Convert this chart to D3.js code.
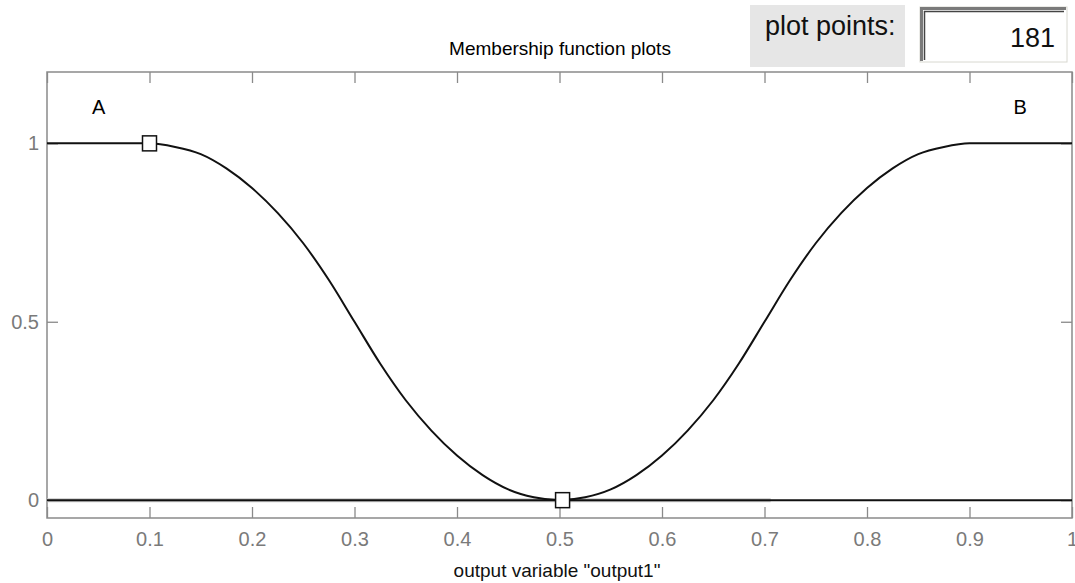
<!DOCTYPE html>
<html>
<head>
<meta charset="utf-8">
<script src="https://cdn.jsdelivr.net/npm/d3@7"></script>
<style>
  body { margin: 0; background: #fff; }
  text { font-family: "Liberation Sans", Arial, Helvetica, sans-serif; }
</style>
</head>
<body>
<svg id="chart" width="1075" height="583"></svg>
<script>
// membership function values
const xs = [0, 0.05, 0.1, 0.125, 0.15, 0.175, 0.2, 0.225, 0.25, 0.275, 0.3,
            0.325, 0.35, 0.375, 0.4, 0.425, 0.45, 0.475, 0.5,
            0.525, 0.55, 0.575, 0.6, 0.625, 0.65, 0.675, 0.7,
            0.725, 0.75, 0.775, 0.8, 0.825, 0.85, 0.875, 0.9, 0.95, 1];
const mfA = [1, 1, 1, 0.99, 0.97, 0.93, 0.875, 0.805, 0.72, 0.617, 0.5,
             0.383, 0.28, 0.195, 0.125, 0.07, 0.03, 0.008, 0,
             0, 0, 0, 0, 0, 0, 0, 0,
             0, 0, 0, 0, 0, 0, 0, 0, 0, 0];
const mfB = [0, 0, 0, 0, 0, 0, 0, 0, 0, 0, 0,
             0, 0, 0, 0, 0, 0, 0, 0,
             0.008, 0.03, 0.07, 0.125, 0.195, 0.28, 0.383, 0.5,
             0.617, 0.72, 0.805, 0.875, 0.93, 0.97, 0.99, 1, 1, 1];
const mfNames = ["A", "B"];
const markers = [[0.1, 1], [0.503, 0]];
const xTicks = [0, 0.1, 0.2, 0.3, 0.4, 0.5, 0.6, 0.7, 0.8, 0.9, 1];
const yTicks = [0, 0.5, 1];
const plotPoints = 181;

const svg = d3.select("#chart");
const plotLeft = 47, plotRight = 1072, plotTop = 72, plotBottom = 518;

const x = d3.scaleLinear().domain([0, 1]).range([plotLeft, plotRight]);
const y = d3.scaleLinear().domain([-0.05, 1.2]).range([plotBottom, plotTop]);

// frame
svg.append("rect")
    .attr("x", plotLeft).attr("y", plotTop)
    .attr("width", plotRight - plotLeft).attr("height", plotBottom - plotTop)
    .attr("fill", "none").attr("stroke", "#8a8a8a").attr("stroke-width", 1.5);

function styleAxis(g, showLabels) {
    g.select(".domain").remove();
    g.selectAll(".tick line").attr("stroke", "#8a8a8a").attr("stroke-width", 1.3);
    g.selectAll(".tick text")
        .attr("fill", "#7a7a7a")
        .style("font-size", "20px")
        .style("display", showLabels ? null : "none");
}

svg.append("g")
    .attr("transform", `translate(0, ${plotBottom})`)
    .call(d3.axisBottom(x).tickValues(xTicks).tickSizeInner(-11).tickSizeOuter(0)
        .tickPadding(14).tickFormat(d3.format("")))
    .call(g => styleAxis(g, true));

svg.append("g")
    .attr("transform", `translate(0, ${plotTop})`)
    .call(d3.axisTop(x).tickValues(xTicks).tickSizeInner(-11).tickSizeOuter(0))
    .call(g => styleAxis(g, false));

svg.append("g")
    .attr("transform", `translate(${plotLeft}, 0)`)
    .call(d3.axisLeft(y).tickValues(yTicks).tickSizeInner(-11).tickSizeOuter(0)
        .tickPadding(8).tickFormat(d3.format("")))
    .call(g => styleAxis(g, true));

svg.append("g")
    .attr("transform", `translate(${plotRight}, 0)`)
    .call(d3.axisRight(y).tickValues(yTicks).tickSizeInner(-11).tickSizeOuter(0))
    .call(g => styleAxis(g, false));

// faint band along zero line
svg.append("line")
    .attr("x1", x(0)).attr("x2", x(0.706))
    .attr("y1", y(0)).attr("y2", y(0))
    .attr("stroke", "#c8c8c8").attr("stroke-width", 4);

const line = d3.line()
    .x(d => x(d[0]))
    .y(d => y(d[1]))
    .curve(d3.curveMonotoneX);

[mfA, mfB].forEach(vals => {
    svg.append("path")
        .datum(xs.map((v, i) => [v, vals[i]]))
        .attr("fill", "none")
        .attr("stroke", "#111")
        .attr("stroke-width", 2)
        .attr("d", line);
});

svg.selectAll(".marker")
    .data(markers)
    .enter().append("rect")
    .attr("class", "marker")
    .attr("x", d => x(d[0]) - 7)
    .attr("y", d => y(d[1]) - 7.5)
    .attr("width", 14).attr("height", 15)
    .attr("fill", "#fff").attr("stroke", "#111").attr("stroke-width", 1.5);

// mf names
svg.append("text").attr("x", x(0.044)).attr("y", 114)
    .style("font-size", "20px").attr("fill", "#000").text(mfNames[0]);
svg.append("text").attr("x", x(0.943)).attr("y", 114)
    .style("font-size", "20px").attr("fill", "#000").text(mfNames[1]);

// titles
svg.append("text").attr("x", 560).attr("y", 55).attr("text-anchor", "middle")
    .style("font-size", "19px").attr("fill", "#000").text("Membership function plots");
svg.append("text").attr("x", 557).attr("y", 577).attr("text-anchor", "middle")
    .style("font-size", "19px").attr("fill", "#111").text('output variable "output1"');

// plot points control
svg.append("rect").attr("x", 750).attr("y", 5).attr("width", 155).attr("height", 62)
    .attr("fill", "#e6e6e6");
svg.append("text").attr("x", 765).attr("y", 35)
    .style("font-size", "27px").attr("fill", "#111").text("plot points:");
svg.append("rect").attr("x", 920).attr("y", 7).attr("width", 147).attr("height", 55)
    .attr("fill", "#fff").attr("stroke", "#d8d8d0").attr("stroke-width", 1);
svg.append("path")
    .attr("d", "M921.5,61 V8.5 H1066")
    .attr("fill", "none").attr("stroke", "#7a7a7a").attr("stroke-width", 3);
svg.append("path")
    .attr("d", "M924.5,60 V11.5 H1064")
    .attr("fill", "none").attr("stroke", "#444").attr("stroke-width", 1.5);
svg.append("text").attr("x", 1055).attr("y", 47).attr("text-anchor", "end")
    .style("font-size", "27px").attr("fill", "#111").text(plotPoints);
</script>
</body>
</html>
